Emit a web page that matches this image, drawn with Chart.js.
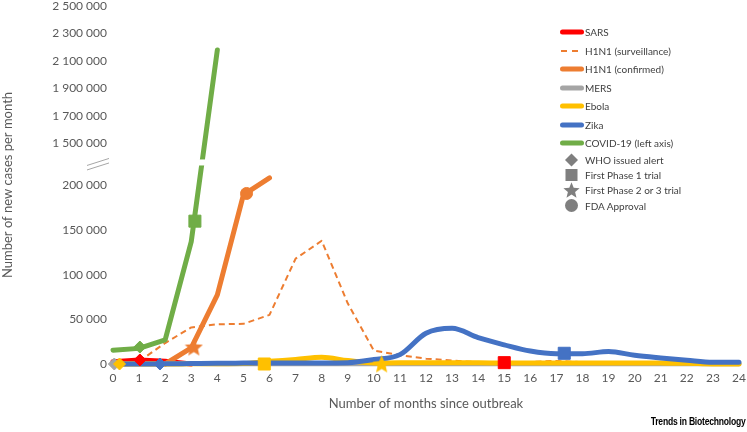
<!DOCTYPE html>
<html>
<head>
<meta charset="utf-8">
<script src="https://cdn.jsdelivr.net/npm/chart.js@4"></script>
<style>
    body { margin: 0; background: #fff; }
    #wrap { position: relative; width: 747px; height: 432px; font-family: Lato, sans-serif; }
    #legend { position: absolute; left: 560px; top: 23px; font-size: 10px; color: #404040; }
    .row { display: flex; align-items: center; white-space: nowrap; }
    .row.line { height: 18.5px; }
    .row.mark { height: 15.2px; }
    .row span { margin-left: 1px; }
    #credit {
        position: absolute; right: 2px; top: 415px;
        font: bold 11px "Liberation Sans Narrow", "Liberation Sans", sans-serif;
        letter-spacing: -0.3px; color: #000;
        transform: scaleX(0.78); transform-origin: right center;
    }
</style>
</head>
<body>
<div id="wrap">
    <canvas id="chart" width="747" height="432"></canvas>
    <div id="legend"></div>
    <div id="credit">Trends in Biotechnology</div>
</div>
<script>
// Months since outbreak (x axis)
const months = [0, 1, 2, 3, 4, 5, 6, 7, 8, 9, 10, 11, 12, 13, 14, 15, 16, 17, 18, 19, 20, 21, 22, 23, 24];

// New cases per month, indexed by month
const sarsCases = [2500, 4500, 3000, 0];
const h1n1SurvCases = [null, 3000, 23500, 41000, 44500, 45000, 55000, 118000, 138000, 68000,
    15000, 10000, 6000, 3800, 2000, 1000, 2200, 3500, 2000];
const h1n1ConfCases = [null, null, 0, 18000, 77500, 189500, 208500];
const mersCases = [0, 200, 300, 500, 400, 300, 400, 300, 200, 300, 400, 300, 200,
    300, 200, 300, 200, 200, 300, 200, 200, 300, 200, 200, 200];
const ebolaCases = [0, 0, 0, 200, 300, 500, 3000, 5000, 7500, 3800, 1200, 1300, 1300,
    1300, 1300, 1200, 1200, 1200, 1200, 1200, 1100, 1000, 800, 0, 0];
const zikaCases = [0, 0, 200, 500, 800, 1000, 1200, 1200, 1200, 1500, 5000, 10500, 34500,
    40000, 29500, 21500, 14500, 11500, 11500, 14000, 9700, 6700, 4100, 1900, 1900];
const covidCases = [15500, 17500, 27000, 137000, 2180000];

// Milestones
const alertSeries = ['MERS', 'Ebola', 'SARS', 'COVID-19', 'Zika'];
const alertMonths = [0.05, 0.25, 1.03, 1.03, 1.8];
const alertCases = [0, 0, 4500, 19000, 0];

const phase1Series = ['COVID-19', 'Ebola', 'SARS', 'Zika'];
const phase1Months = [3.14, 5.8, 15.0, 17.3];
const phase1Cases = [160000, 0, 1500, 12000];

const phase23Series = ['H1N1', 'Ebola'];
const phase23Months = [3.1, 10.3];
const phase23Cases = [19000, 0];

const fdaSeries = ['H1N1'];
const fdaMonths = [5.12];
const fdaCases = [191000];

// Y axis tick values (broken axis)
const yTickValues = [0, 50000, 100000, 150000, 200000, 1500000, 1700000, 1900000, 2100000, 2300000, 2500000];

const seriesNames = ['SARS', 'H1N1 (surveillance)', 'H1N1 (confirmed)', 'MERS', 'Ebola', 'Zika', 'COVID-19 (left axis)'];
const milestoneNames = ['WHO issued alert', 'First Phase 1 trial', 'First Phase 2 or 3 trial', 'FDA Approval'];

const colors = {
    'SARS': '#FF0000',
    'H1N1': '#ED7D31',
    'MERS': '#A5A5A5',
    'Ebola': '#FFC000',
    'Zika': '#4472C4',
    'COVID-19': '#70AD47'
};

// Axis break: lower part linear, 1.5M-2.5M compressed above a gap
const LOWER_MAX = 200000;
const UPPER_MIN = 1500000;
const BREAK_GAP = 47000;
const UPPER_SCALE = 0.154;

function toAxis(v) {
    if (v === null || v === undefined) return null;
    if (v < UPPER_MIN) return v;
    return LOWER_MAX + BREAK_GAP + (v - UPPER_MIN) * UPPER_SCALE;
}

function fmt(v) {
    return String(v).replace(/\B(?=(\d{3})+(?!\d))/g, ' ');
}

function makeStar(color, size) {
    const c = document.createElement('canvas');
    c.width = size;
    c.height = size;
    const g = c.getContext('2d');
    const R = size / 2, r = R * 0.45;
    g.beginPath();
    for (let i = 0; i < 10; i++) {
        const a = -Math.PI / 2 + i * Math.PI / 5;
        const rad = i % 2 ? r : R;
        g.lineTo(R + rad * Math.cos(a), R + rad * Math.sin(a) + 0.8);
    }
    g.closePath();
    g.fillStyle = color;
    g.fill();
    return c;
}

function lineSet(label, values, color, order, extra = {}) {
    return Object.assign({
        label,
        data: values.map(toAxis),
        borderColor: color,
        backgroundColor: color,
        borderWidth: 5,
        borderCapStyle: 'round',
        borderJoinStyle: 'round',
        pointRadius: 0,
        fill: false,
        spanGaps: false,
        clip: false,
        order
    }, extra);
}

function markerSet(label, series, xs, ys, style, radius) {
    const cols = series.map(s => colors[s]);
    return {
        label,
        data: xs.map((x, i) => ({ x, y: toAxis(ys[i]) })),
        showLine: false,
        pointStyle: typeof style === 'function' ? cols.map(style) : style,
        pointRadius: radius,
        pointBackgroundColor: cols,
        pointBorderColor: cols,
        pointBorderWidth: 1,
        clip: false,
        order: 0
    };
}

// white gap across the line at the break plus "//" on the axis
const axisBreak = {
    id: 'axisBreak',
    afterDatasetsDraw(chart) {
        const { ctx, chartArea, scales } = chart;
        const y = scales.y.getPixelForValue(LOWER_MAX + BREAK_GAP / 2);
        const L = chartArea.left;
        ctx.save();
        ctx.fillStyle = '#fff';
        ctx.fillRect(L, y - 5, chartArea.right - L, 6);
        ctx.strokeStyle = '#a6a6a6';
        ctx.lineWidth = 1;
        ctx.beginPath();
        ctx.moveTo(L - 26, y + 1);
        ctx.lineTo(L - 4, y - 6);
        ctx.moveTo(L - 26, y + 5.5);
        ctx.lineTo(L - 4, y - 1.5);
        ctx.stroke();
        ctx.restore();
    }
};

Chart.defaults.font.family = 'Lato, sans-serif';
Chart.defaults.color = '#595959';

const chart = new Chart(document.getElementById('chart'), {
    type: 'line',
    data: {
        labels: months,
        datasets: [
            markerSet('WHO issued alert', alertSeries, alertMonths, alertCases, 'rectRot', 6),
            markerSet('First Phase 1 trial', phase1Series, phase1Months, phase1Cases, 'rect', 8.5),
            markerSet('First Phase 2 or 3 trial', phase23Series, phase23Months, phase23Cases, c => makeStar(c, 19), 9),
            markerSet('FDA Approval', fdaSeries, fdaMonths, fdaCases, 'circle', 6),
            lineSet('COVID-19 (left axis)', covidCases, colors['COVID-19'], 1),
            lineSet('Zika', zikaCases, colors['Zika'], 2, { cubicInterpolationMode: 'monotone' }),
            lineSet('Ebola', ebolaCases, colors['Ebola'], 3, { cubicInterpolationMode: 'monotone' }),
            lineSet('MERS', mersCases, colors['MERS'], 4),
            lineSet('H1N1 (confirmed)', h1n1ConfCases, colors['H1N1'], 5),
            lineSet('H1N1 (surveillance)', h1n1SurvCases, colors['H1N1'], 6, { borderWidth: 2, borderDash: [6, 4], borderCapStyle: 'butt' }),
            lineSet('SARS', sarsCases, colors['SARS'], 7)
        ]
    },
    options: {
        responsive: false,
        animation: false,
        layout: { autoPadding: false, padding: { bottom: 20 } },
        plugins: {
            legend: { display: false },
            tooltip: { enabled: false }
        },
        scales: {
            x: {
                type: 'linear',
                min: 0,
                max: 24,
                grid: { display: false, drawTicks: false },
                border: { display: true, color: '#d9d9d9' },
                afterFit: scale => { scale.paddingRight = 8; },
                ticks: { stepSize: 1, padding: 7, font: { size: 12 }, color: '#595959' },
                title: {
                    display: true,
                    text: 'Number of months since outbreak',
                    font: { size: 13 },
                    color: '#595959',
                    padding: { top: 4, bottom: 0 }
                }
            },
            y: {
                min: 0,
                max: toAxis(2500000),
                grid: { display: false, drawTicks: false },
                border: { display: false },
                afterFit: scale => {
                    scale.width = 113;
                    scale.paddingTop = 6;
                },
                afterBuildTicks: scale => {
                    scale.ticks = yTickValues.map(v => ({ value: toAxis(v) }));
                },
                ticks: {
                    padding: 6,
                    font: { size: 12 },
                    color: '#595959',
                    callback: (value, index) => fmt(yTickValues[index])
                },
                title: {
                    display: true,
                    text: 'Number of new cases per month',
                    font: { size: 13 },
                    color: '#595959',
                    padding: { top: 0, bottom: 0 }
                }
            }
        }
    },
    plugins: [axisBreak]
});

// Legend
function svgLine(color, dashed) {
    if (dashed) {
        return `<svg width="24" height="6"><line x1="1" y1="3" x2="7" y2="3" stroke="${color}" stroke-width="2"/>` +
            `<line x1="12" y1="3" x2="18" y2="3" stroke="${color}" stroke-width="2"/></svg>`;
    }
    return `<svg width="24" height="6"><line x1="2.5" y1="3" x2="21.5" y2="3" stroke="${color}" stroke-width="5" stroke-linecap="round"/></svg>`;
}

function svgMarker(kind) {
    const g = '#7F7F7F';
    let shape = '';
    if (kind === 0) shape = `<polygon points="11.5,1.5 18,8 11.5,14.5 5,8" fill="${g}"/>`;
    if (kind === 1) shape = `<rect x="5.5" y="2" width="12" height="12" fill="${g}"/>`;
    if (kind === 2) {
        const pts = [];
        for (let i = 0; i < 10; i++) {
            const a = -Math.PI / 2 + i * Math.PI / 5;
            const rad = i % 2 ? 3.8 : 8.5;
            pts.push((11.5 + rad * Math.cos(a)).toFixed(1) + ',' + (8.8 + rad * Math.sin(a)).toFixed(1));
        }
        shape = `<polygon points="${pts.join(' ')}" fill="${g}"/>`;
    }
    if (kind === 3) shape = `<circle cx="11.5" cy="8.5" r="6.5" fill="${g}"/>`;
    return `<svg width="24" height="17">${shape}</svg>`;
}

const legendBox = document.getElementById('legend');
let html = '';
seriesNames.forEach(name => {
    const key = Object.keys(colors).find(k => name.startsWith(k));
    html += `<div class="row line">${svgLine(colors[key], name.includes('surveillance'))}<span>${name}</span></div>`;
});
milestoneNames.forEach((name, i) => {
    html += `<div class="row mark">${svgMarker(i)}<span>${name}</span></div>`;
});
legendBox.innerHTML = html;
</script>
</body>
</html>
